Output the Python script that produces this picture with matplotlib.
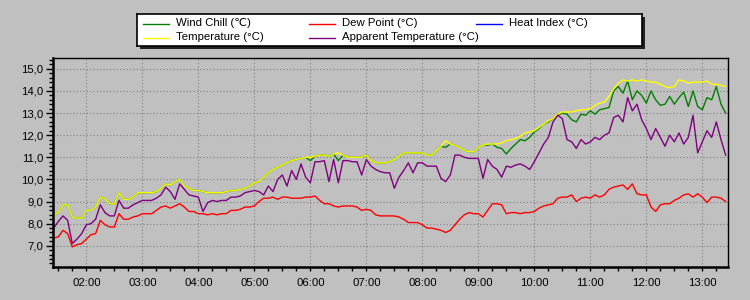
import matplotlib
matplotlib.use("Agg")
import matplotlib.pyplot as plt
import matplotlib.dates as mdates
from matplotlib.patches import Rectangle
from matplotlib.ticker import MultipleLocator
import pandas as pd

plt.rcParams['font.family'] = ['Liberation Sans', 'DejaVu Sans']

# samples every 5 minutes, 01:25 .. 13:25
times = pd.date_range("2024-01-01 01:25", "2024-01-01 13:25", freq="5min")

temperature = [
    8.4, 8.5, 8.85, 8.85, 8.3, 8.25, 8.25,
    8.6, 8.6, 8.75, 9.2, 9.1, 8.9, 8.9, 9.4, 9.1, 9.1, 9.2, 9.4,
    9.4, 9.4, 9.4, 9.45, 9.6, 9.8, 9.75, 9.9, 10.0, 9.7, 9.6, 9.5,
    9.5, 9.45, 9.4, 9.4, 9.4, 9.4, 9.45, 9.5, 9.5, 9.55, 9.6, 9.7,
    9.85, 9.9, 10.1, 10.3, 10.45, 10.55, 10.65, 10.75, 10.85, 10.9, 10.95, 11.0,
    11.0, 11.05, 11.1, 11.1, 11.05, 11.15, 11.2, 11.1, 11.0, 11.0, 11.0, 11.0,
    11.1, 10.85, 10.75, 10.75, 10.75, 10.8, 10.9, 11.05, 11.2, 11.2, 11.2, 11.2,
    11.2, 11.1, 11.1, 11.3, 11.5, 11.75, 11.6, 11.55, 11.45, 11.3, 11.25, 11.25,
    11.45, 11.55, 11.6, 11.6, 11.6, 11.65, 11.75, 11.8, 11.85, 11.95, 12.1, 12.15,
    12.2, 12.35, 12.5, 12.65, 12.75, 12.95, 13.05, 13.05, 13.05, 13.1, 13.15, 13.15,
    13.2, 13.35, 13.45, 13.5, 13.75, 14.1, 14.35, 14.5, 14.45, 14.5, 14.45, 14.5,
    14.45, 14.4, 14.4, 14.3, 14.2, 14.15, 14.2, 14.5, 14.45, 14.35, 14.4, 14.4,
    14.4, 14.45, 14.3, 14.3, 14.25, 14.2,
]

wind_chill = [
    8.4, 8.5, 8.85, 8.85, 8.3, 8.25, 8.25,
    8.6, 8.6, 8.75, 9.2, 9.1, 8.9, 8.9, 9.4, 9.1, 9.1, 9.2, 9.4,
    9.4, 9.4, 9.4, 9.45, 9.6, 9.8, 9.75, 9.9, 10.0, 9.7, 9.6, 9.5,
    9.5, 9.45, 9.4, 9.4, 9.4, 9.4, 9.45, 9.5, 9.5, 9.55, 9.6, 9.7,
    9.85, 9.9, 10.1, 10.3, 10.45, 10.55, 10.65, 10.75, 10.85, 10.9, 10.95, 11.0,
    10.85, 11.05, 11.1, 11.1, 11.05, 11.15, 10.85, 11.1, 11.0, 11.0, 11.0, 11.0,
    11.1, 10.85, 10.75, 10.75, 10.75, 10.8, 10.9, 11.05, 11.2, 11.2, 11.2, 11.2,
    11.2, 11.1, 11.1, 11.3, 11.5, 11.45, 11.6, 11.55, 11.45, 11.3, 11.25, 11.25,
    11.45, 11.55, 11.55, 11.6, 11.45, 11.4, 11.15, 11.4, 11.6, 11.8, 11.75, 11.9,
    12.15, 12.3, 12.5, 12.6, 12.75, 12.9, 13.0, 12.95, 12.7, 12.6, 12.95, 12.9,
    13.1, 12.95, 13.15, 13.2, 13.25, 14.0, 14.2, 13.9, 14.45, 13.6, 14.0, 13.8,
    13.45, 14.0, 13.6, 13.35, 13.4, 13.75, 13.4, 13.7, 13.95, 13.3, 14.0, 13.3,
    13.15, 13.7, 13.6, 14.2, 13.4, 13.0,
]

apparent = [
    7.8, 8.1, 8.35, 8.15, 7.1, 7.3, 7.55,
    7.95, 8.0, 8.2, 8.85, 8.5, 8.35, 8.35, 9.05, 8.7, 8.7, 8.85, 8.95,
    9.05, 9.05, 9.05, 9.15, 9.3, 9.65, 9.45, 9.1, 9.8, 9.55, 9.3, 9.25,
    9.2, 8.55, 8.95, 9.05, 9.0, 9.05, 9.05, 9.2, 9.2, 9.25, 9.4, 9.45,
    9.5, 9.45, 9.3, 9.7, 9.45, 10.0, 10.2, 9.7, 10.4, 10.0, 10.7, 10.1,
    9.85, 10.8, 10.8, 10.85, 9.9, 10.9, 9.85, 10.85, 10.85, 10.8, 10.8, 10.2,
    10.9, 10.6, 10.45, 10.35, 10.3, 10.3, 9.6, 10.1, 10.4, 10.75, 10.3, 10.75,
    10.75, 10.6, 10.6, 10.6, 10.05, 9.9, 10.2, 11.1, 11.1, 11.0, 10.95, 10.95,
    10.95, 10.05, 10.9, 10.6, 10.45, 10.1, 10.6, 10.55, 10.65, 10.7, 10.6, 10.45,
    10.8, 11.2, 11.6, 11.9, 12.6, 12.9, 12.75, 11.8, 11.7, 11.4, 11.8, 11.6,
    11.7, 11.9, 11.8, 12.0, 12.1, 12.8, 12.9, 12.6, 13.7, 13.1, 13.4, 12.7,
    12.3, 11.8, 12.3, 11.9, 11.5, 12.0, 11.7, 12.1, 11.6, 11.9, 12.9, 11.2,
    11.7, 12.2, 11.9, 12.6, 11.8, 11.1,
]

dew_point = [
    7.35, 7.4, 7.7, 7.55, 6.95, 7.05, 7.1,
    7.3, 7.5, 7.55, 8.15, 7.95, 7.85, 7.85, 8.45, 8.2, 8.2, 8.3, 8.35,
    8.45, 8.45, 8.45, 8.6, 8.75, 8.8, 8.7, 8.8, 8.9, 8.75, 8.55, 8.55,
    8.45, 8.45, 8.4, 8.45, 8.4, 8.45, 8.45, 8.6, 8.6, 8.65, 8.75, 8.75,
    8.8, 9.0, 9.15, 9.15, 9.2, 9.1, 9.2, 9.2, 9.15, 9.15, 9.15, 9.2,
    9.2, 9.25, 9.05, 8.9, 8.9, 8.8, 8.75, 8.8, 8.8, 8.8, 8.75, 8.6,
    8.65, 8.6, 8.4, 8.35, 8.35, 8.35, 8.35, 8.3, 8.2, 8.05, 8.05, 8.05,
    7.95, 7.8, 7.8, 7.75, 7.7, 7.6, 7.7, 7.95, 8.2, 8.4, 8.5, 8.45,
    8.45, 8.3, 8.6, 8.9, 8.9, 8.85, 8.45, 8.5, 8.5, 8.45, 8.5, 8.5,
    8.55, 8.7, 8.8, 8.85, 8.9, 9.15, 9.2, 9.2, 9.3, 9.0, 9.15, 9.2,
    9.15, 9.3, 9.2, 9.3, 9.55, 9.65, 9.7, 9.75, 9.55, 9.8, 9.35, 9.3,
    9.3, 8.75, 8.55, 8.85, 8.9, 8.9, 9.05, 9.15, 9.3, 9.35, 9.2, 9.35,
    9.2, 8.95, 9.2, 9.2, 9.15, 9.0,
]

heat_index = []  # no values in this period

labels = ["Wind Chill (\u2103)", "Dew Point (\u00b0C)", "Heat Index (\u00b0C)",
          "Temperature (\u00b0C)", "Apparent Temperature (\u00b0C)"]
colors = ["#008000", "#FF0000", "#0000FF", "#FFFF00", "#800080"]

bg = "#C0C0C0"
fig = plt.figure(figsize=(7.5, 3), dpi=100, facecolor=bg)
ax = fig.add_axes([53 / 750, 1 - 267 / 300, 675 / 750, 209 / 300], facecolor=bg)

lw = 1.0
ax.plot(times, wind_chill, color=colors[0], lw=lw)
ax.plot(times, dew_point, color=colors[1], lw=lw)
ax.plot(times[:len(heat_index)], heat_index, color=colors[2], lw=lw)
ax.plot(times, temperature, color=colors[3], lw=lw)
ax.plot(times, apparent, color=colors[4], lw=lw)

ax.set_xlim(pd.Timestamp("2024-01-01 01:24:18"), pd.Timestamp("2024-01-01 13:27:30"))
ax.set_ylim(6.04, 15.49)

ax.xaxis.set_major_locator(mdates.HourLocator())
ax.xaxis.set_minor_locator(mdates.MinuteLocator(byminute=[0, 15, 30, 45]))
ax.xaxis.set_major_formatter(mdates.DateFormatter("%H:%M"))
ax.yaxis.set_major_locator(MultipleLocator(1))
ax.yaxis.set_minor_locator(MultipleLocator(0.2))
ax.yaxis.set_major_formatter(lambda v, p: f"{v:.1f}".replace(".", ","))

ax.tick_params(axis="both", which="both", colors="black", labelsize=8.2, direction="out")
ax.tick_params(axis="y", which="major", length=5, width=1, pad=2)
ax.tick_params(axis="y", which="minor", length=3, width=1)
ax.tick_params(axis="x", which="both", length=3, width=1, pad=5)

ax.grid(True, which="major", color="#808080", linestyle=(0, (1, 2)), linewidth=0.8)

for side in ["left", "bottom"]:
    ax.spines[side].set_linewidth(1.8)
for side in ["top", "right"]:
    ax.spines[side].set_linewidth(1.0)
for s in ax.spines.values():
    s.set_color("black")

# legend box with shadow, drawn by hand to keep the row-wise layout
lx, ly, lw_box, lh_box = 137, 14, 505, 32
shadow = Rectangle(((lx + 3) / 750, 1 - (ly + lh_box + 3) / 300), lw_box / 750, lh_box / 300,
                   transform=fig.transFigure, facecolor="#202020", edgecolor="none", zorder=4)
fig.patches.append(shadow)
lg = fig.add_axes([lx / 750, 1 - (ly + lh_box) / 300, lw_box / 750, lh_box / 300],
                  facecolor="white", zorder=5)
lg.set_xlim(0, lw_box)
lg.set_ylim(lh_box, 0)
lg.set_xticks([])
lg.set_yticks([])
for s in lg.spines.values():
    s.set_color("black")
    s.set_linewidth(1.2)

col_x = [6, 172, 339]
row_y = [9.5, 23.5]
for i, (lab, col) in enumerate(zip(labels, colors)):
    r, c = divmod(i, 3)
    x0 = col_x[c]
    lg.plot([x0, x0 + 26], [row_y[r], row_y[r]], color=col, lw=1.0)
    lg.text(x0 + 33, row_y[r], lab, va="center", ha="left", fontsize=8.2, color="black")

fig.savefig("out.png", dpi=100, facecolor=bg)
